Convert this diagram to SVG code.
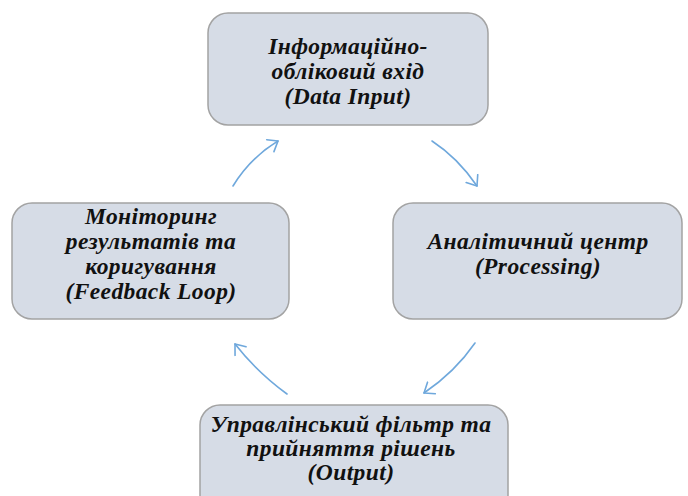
<svg xmlns="http://www.w3.org/2000/svg" width="688" height="496" viewBox="0 0 688 496">
<style>
.box{fill:#d6dce6;stroke:#a3a3a3;stroke-width:1.5}
.t{font-family:"Liberation Serif","Times New Roman",serif;font-style:italic;font-weight:bold;font-size:23.5px;letter-spacing:0.4px;fill:#111;text-anchor:middle}
.c{fill:none;stroke:#6fa8dc;stroke-width:1.6;stroke-linecap:round}
</style>
<defs>
<marker id="ah" markerUnits="userSpaceOnUse" markerWidth="20" markerHeight="20" refX="10" refY="10" orient="auto">
<path d="M1,3 L10,10 L1,17" fill="none" stroke="#6fa8dc" stroke-width="1.6" stroke-linecap="round" stroke-linejoin="round"/>
</marker>
</defs>
<rect width="688" height="496" fill="#fff"/>
<g id="connectors">
<path class="c" d="M233,186 Q250,158 278,141" marker-end="url(#ah)"/>
<path class="c" d="M432,141 Q458,158 477,186" marker-end="url(#ah)"/>
<path class="c" d="M475,343 Q455,372 424,393" marker-end="url(#ah)"/>
<path class="c" d="M287,394 Q257,372 235,344" marker-end="url(#ah)"/>
</g>
<g id="input">
<rect class="box" x="208" y="13" width="280" height="112" rx="20"/>
<text class="t" x="348" y="54">Інформаційно-</text>
<text class="t" x="348" y="79">обліковий вхід</text>
<text class="t" x="348" y="104">(Data Input)</text>
</g>
<g id="processing">
<rect class="box" x="393" y="203" width="289" height="116" rx="20"/>
<text class="t" x="538" y="249">Аналітичний центр</text>
<text class="t" x="538" y="274">(Processing)</text>
</g>
<g id="output">
<rect class="box" x="200" y="405" width="308" height="110" rx="20"/>
<text class="t" x="351" y="432">Управлінський фільтр та</text>
<text class="t" x="351" y="456">прийняття рішень</text>
<text class="t" x="351" y="480">(Output)</text>
</g>
<g id="feedback">
<rect class="box" x="12" y="203" width="277" height="116" rx="20"/>
<text class="t" x="151" y="224">Моніторинг</text>
<text class="t" x="151" y="249">результатів та</text>
<text class="t" x="151" y="274">коригування</text>
<text class="t" x="151" y="299">(Feedback Loop)</text>
</g>
</svg>
